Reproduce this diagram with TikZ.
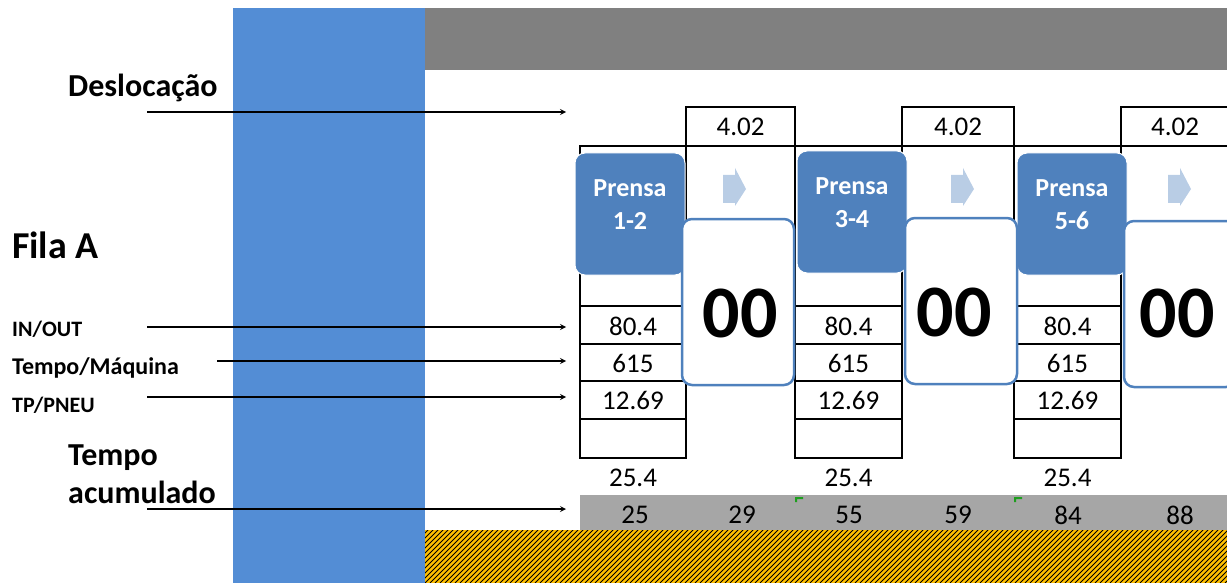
\documentclass[tikz,border=0pt]{standalone}
\usepackage{fontspec}
\setmainfont{Carlito}
\usepackage{xcolor}
\usepackage{tikz}
\usetikzlibrary{arrows,positioning,calc}

\definecolor{bandblue}{HTML}{538DD5}
\definecolor{pressblue}{HTML}{4F81BD}
\definecolor{flowblue}{HTML}{B9CDE5}
\definecolor{hatchyellow}{HTML}{FFC000}
\definecolor{markgreen}{HTML}{1E9E1E}

\begin{document}
\begin{tikzpicture}[
      x=1pt,y=-1pt,
      press/.style={
        rectangle,
        draw=white,
        line width=1pt,
        fill=pressblue,
        rounded corners=10pt,
        minimum width=110pt,
        minimum height=122pt
      },
      pressname/.style={text=white,align=center,inner sep=0pt,
        font=\fontsize{26}{33}\selectfont\bfseries},
      opbox/.style={
        rectangle,
        draw=pressblue,
        line width=2.5pt,
        fill=white,
        rounded corners=10pt,
        minimum width=112pt,
        minimum height=166pt
      },
      ops/.style={inner sep=0pt,font=\fontsize{74}{74}\selectfont\bfseries},
      val/.style={inner sep=0pt,font=\fontsize{27}{30}\selectfont},
      lbl/.style={anchor=base west,inner sep=0pt,font=\fontsize{22}{26}\selectfont\bfseries},
      heading/.style={inner sep=0pt,align=left,font=\fontsize{32}{38}\selectfont\bfseries},
      arrow/.style={->,>=stealth,line width=1.6pt},
      cellline/.style={line width=1.5pt}
    ]
    \useasboundingbox (0,0) rectangle (1227,583);

    % Background bands
    \fill[bandblue] (233,8) rectangle (425,583);
    \fill[gray] (425,8) rectangle (1227,70);
    \fill[hatchyellow] (425,530) rectangle (1227,583);
    \begin{scope}
      \clip (425,530) rectangle (1227,583);
      \foreach \i in {365,370,...,1230}
        \draw[line width=1pt] (\i,583) -- ++(60,-60);
    \end{scope}
    \fill[gray!70] (580,495) rectangle (1227,530);

    % Grid of the three press tables
    \draw[cellline] (580,146) -- (1227,146);
    \foreach \l/\r in {580/686,795/902,1014/1121} {
      \draw[cellline] (\l,146) rectangle (\r,458);
      \foreach \y in {306,344,381,419}
        \draw[cellline] (\l,\y) -- (\r,\y);
    }

    % Transport times
    \node[val,draw,cellline,minimum width=109pt,minimum height=39pt] (t12) at (740.5,126.5) {4.02};
    \node[val,draw,cellline,minimum width=112pt,minimum height=39pt] (t34) at (958,126.5) {4.02};
    \node[val,draw,cellline,minimum width=108pt,minimum height=39pt] (t56) at (1175,126.5) {4.02};

    % Presses
    \node[press] (p12) at (630,214) {};
    \node[press] (p34) at (852,212) {};
    \node[press] (p56) at (1072,214) {};
    \node[pressname] (n12) at ([yshift=9pt]p12.center) {Prensa\\1-2};
    \node[pressname] (n34) at ([yshift=9pt]p34.center) {Prensa\\3-4};
    \node[pressname] (n56) at ([yshift=9pt]p56.center) {Prensa\\5-6};

    % Flow arrows between presses
    \foreach \x/\n in {723/f12,951/f34,1168/f56}
      \fill[flowblue] (\x,175) -- ++(12,0) -- ++(0,-7) -- ++(11,21)
        -- ++(-11,17) -- ++(0,-3) -- ++(-12,0) -- cycle;

    % Operator boxes
    \node[opbox] (w12) at (738,302) {};
    \node[opbox] (w34) at (961,301) {};
    \node[opbox] (w56) at (1180,304) {};
    \node[ops] (o12) at (740,313) {00};
    \node[ops] (o34) at (954,312) {00};
    \node[ops] (o56) at (1177,313) {00};

    % Table values
    \foreach \c/\n in {633/a,848.5/c,1067.5/e} {
      \node[val] (io-\n) at (\c,326) {80.4};
      \node[val] (tm-\n) at (\c,363) {615};
      \node[val] (tp-\n) at (\c,400) {12.69};
      \node[val] (acc-\n) at (\c,478) {25.4};
    }

    % Accumulated time
    \foreach \x/\v in {635/25,742/29,849/55,958/59,1068/84,1180/88}
      \node[val] (cum\v) at (\x,515) {\v};
    \foreach \x in {795,1014}
      \fill[markgreen] (\x,497) -- ++(8,0) -- ++(0,2) -- ++(-6,0) -- ++(0,3) -- ++(-2,0) -- cycle;

    % Row labels
    \node[heading,anchor=base west] (desl) at (68,97) {Deslocação};
    \node[heading,anchor=base west,font=\fontsize{38}{44}\selectfont\bfseries] (fila) at (12,258) {Fila A};
    \node[lbl] (inout) at (12,336) {IN/OUT};
    \node[lbl,font=\fontsize{24}{28}\selectfont\bfseries] (tmaq) at (12,374) {Tempo/Máquina};
    \node[lbl] (tpneu) at (12,412) {TP/PNEU};
    \node[heading,anchor=west] (tacc) at (68,474) {Tempo\\acumulado};

    \coordinate (desl-s) at (147,112);   \coordinate (desl-e) at (566,112);
    \coordinate (io-s) at (147,327);     \coordinate (io-e) at (566,327);
    \coordinate (tm-s) at (217,361);     \coordinate (tm-e) at (566,361);
    \coordinate (tp-s) at (147,397);     \coordinate (tp-e) at (566,397);
    \coordinate (acc-s) at (147,509);    \coordinate (acc-e) at (566,509);

    \draw[arrow] (desl-s) -- (desl-e);
    \draw[arrow] (io-s) -- (io-e);
    \draw[arrow] (tm-s) -- (tm-e);
    \draw[arrow] (tp-s) -- (tp-e);
    \draw[arrow] (acc-s) -- (acc-e);
  \end{tikzpicture}
\end{document}
